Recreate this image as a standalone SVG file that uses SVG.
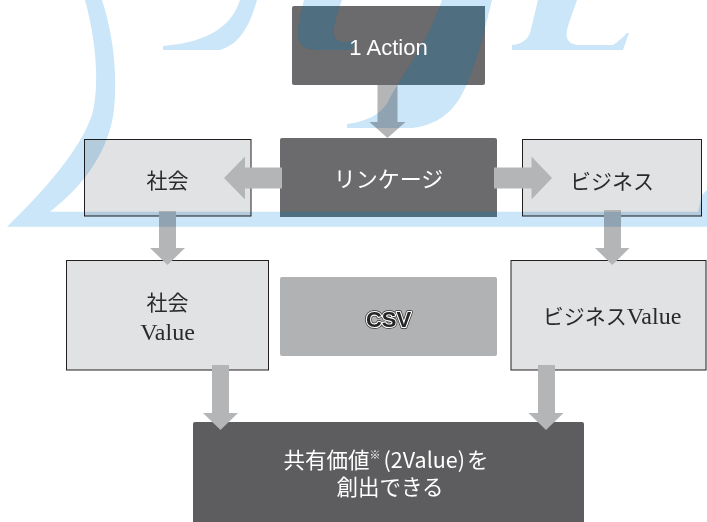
<svg xmlns="http://www.w3.org/2000/svg" xmlns:xlink="http://www.w3.org/1999/xlink" width="707" height="522" viewBox="0 0 707 522">
  <style>
    .dark { fill: #6b6b6d; }
    .darker { fill: #5d5d5f; }
    .light { fill: #e1e2e4; stroke: #231f20; stroke-width: 1; }
    .mid { fill: #b1b2b4; }
    .arrow { fill: #b4b5b7; }
    .wtxt { font-family: "Liberation Sans", "Noto Sans CJK JP", sans-serif; fill: #ffffff; text-anchor: middle; }
    .jtxt { font-family: "Noto Sans CJK JP", "Liberation Sans", sans-serif; fill: #ffffff; text-anchor: middle; }
    .stxt { font-family: "Liberation Serif", "Noto Sans CJK JP", serif; fill: #2a2a2a; text-anchor: middle; }
    .csv { font-family: "Liberation Sans", Arial, sans-serif; font-weight: bold; font-size: 22px; text-anchor: middle; }
  </style>
  <defs>
    <g id="wmshapes">
      <path d="M 85 0 L 102 0 C 112 30 118 70 114 110 C 109 150 85 185 50 211.7 L 707 211.7 L 707 226.7 L 7 226.7 C 45 190 80 150 92 115 C 100 85 96 40 85 0 Z"/>
      <path d="M 240 0 C 232 25 210 42 163 46 L 163 50 L 220 50 C 240 44 250 25 257 0 Z"/>
      <path d="M 304 0 L 342 0 C 335 18 332 32 335 38 C 338 43 346 43 356 40 L 352 50 L 320 50 C 305 50 298 45 298 35 C 298 25 300 15 304 0 Z"/>
      <path d="M 442 0 L 492 0 C 480 50 468 90 455 105 C 445 118 430 126 412 128 L 347 128 L 347 124 C 365 122 380 115 388 102 C 398 80 425 50 442 0 Z"/>
      <path d="M 538 0 L 577 0 C 570 20 565 32 567 38 C 569 43 573 45 580 45 L 613 45 C 618 42 622 38 627 33 L 629 33 L 623 50 L 512 50 L 512 45 C 522 44 527 40 530 33 Z"/>
      <path d="M 702 195 L 707 190 L 707 212 L 698 212 Z"/>
    </g>
    <clipPath id="darkclip">
      <rect x="292" y="6" width="193" height="79"/>
      <rect x="280" y="138" width="217" height="79"/>
    </clipPath>
  </defs>

  <rect width="707" height="522" fill="#ffffff"/>

  <g id="node-action"><rect class="dark" x="292" y="6" width="193" height="79" rx="2"/></g>
  <g id="node-linkage"><rect class="dark" x="280" y="138" width="217" height="79" rx="2"/></g>
  <g id="node-society"><rect class="light" x="84.5" y="139.5" width="166.5" height="76.5"/></g>
  <g id="node-business"><rect class="light" x="522.5" y="139.5" width="179" height="76.5"/></g>
  <g id="node-society-value"><rect class="light" x="66.5" y="260.5" width="202" height="109.5"/></g>
  <g id="node-business-value"><rect class="light" x="511" y="260.5" width="195" height="109.5"/></g>
  <g id="node-csv"><rect class="mid" x="280" y="277" width="217" height="79" rx="2"/></g>
  <g id="node-shared-value"><rect class="darker" x="193" y="422" width="391" height="110" rx="2"/></g>

  <g id="connectors">
    <polygon class="arrow" points="377.5,85 397.5,85 397.5,122 405.5,122 387.5,138 369.5,122 377.5,122"/>
    <polygon class="arrow" points="282,167.5 245,167.5 245,156.5 224,178 245,199.5 245,188.5 282,188.5"/>
    <polygon class="arrow" points="494,167.5 531.5,167.5 531.5,156.5 552,178 531.5,199.5 531.5,188.5 494,188.5"/>
    <polygon class="arrow" points="159,211 176,211 176,248 185,248 167.5,265 150,248 159,248"/>
    <polygon class="arrow" points="604,210 621,210 621,248 629.5,248 612.3,265 595,248 604,248"/>
    <polygon class="arrow" points="212,365 229,365 229,413 238,413 220.5,430 203,413 212,413"/>
    <polygon class="arrow" points="538,365 555,365 555,413 563.5,413 546,430 528.5,413 538,413"/>
  </g>

  <g id="watermark">
    <g style="mix-blend-mode:multiply" fill="#cbe6f8"><use xlink:href="#wmshapes"/></g>
    <g clip-path="url(#darkclip)" fill="#4f6f80"><use xlink:href="#wmshapes"/></g>
  </g>

  <g id="labels">
    <text class="wtxt" x="388.5" y="55" font-size="22">1 Action</text>
    <text class="jtxt" x="388.5" y="187" font-size="22">リンケージ</text>
    <text class="stxt" x="167.5" y="188" font-size="21">社会</text>
    <text class="stxt" x="612" y="189" font-size="21">ビジネス</text>
    <text class="stxt" x="167.5" y="310" font-size="21">社会</text>
    <text class="stxt" x="167.5" y="340" font-size="24">Value</text>
    <text class="stxt" x="612" y="324" font-size="21">ビジネス<tspan font-size="24">Value</tspan></text>
    <text class="csv" x="388.5" y="326.5" fill="none" stroke="#2e2e2e" stroke-width="3.6" stroke-linejoin="round">CSV</text>
    <text class="csv" x="388.5" y="326.5" fill="#262626" stroke="#ffffff" stroke-width="2.2" stroke-linejoin="round" paint-order="stroke">CSV</text>
    <text class="jtxt" x="386" y="468" font-size="21.5">共有価値<tspan font-size="11" dy="-9">※</tspan><tspan dy="9" dx="3">(2Value)</tspan><tspan dx="2">を</tspan></text>
    <text class="jtxt" x="390" y="495" font-size="21.5">創出できる</text>
  </g>
</svg>
